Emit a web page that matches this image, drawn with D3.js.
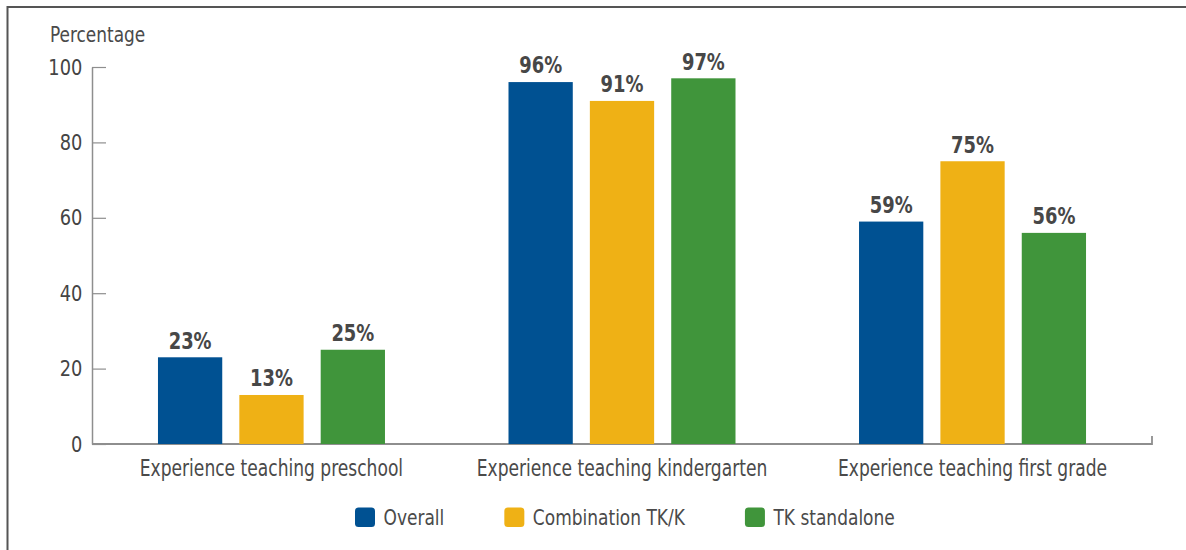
<!DOCTYPE html>
<html>
<head>
<meta charset="utf-8">
<script src="https://cdn.jsdelivr.net/npm/d3@7"></script>
<style>
  html, body { margin: 0; padding: 0; background: #fff; }
  svg { display: block; font-family: "DejaVu Sans Condensed", "Liberation Sans", sans-serif; }
</style>
</head>
<body>
<svg id="chart" width="1186" height="550"></svg>
<script>
const categories = ["Experience teaching preschool", "Experience teaching kindergarten", "Experience teaching first grade"];
const seriesNames = ["Overall", "Combination TK/K", "TK standalone"];
const overall = [23, 96, 59];
const combination = [13, 91, 75];
const standalone = [25, 97, 56];
const yTicks = [0, 20, 40, 60, 80, 100];
const colors = ["#005192", "#EFB115", "#40953B"];

(function () {
const FONT = "'DejaVu Sans Condensed', 'Liberation Sans', sans-serif";
const TEXT = "#4a4a4a";
const seriesValues = [overall, combination, standalone];
const data = categories.map((c, i) => ({
  category: c,
  values: seriesNames.map((s, j) => ({ series: s, value: seriesValues[j][i], color: colors[j] }))
}));

const svg = d3.select("#chart");
const mLeft = 92, mRight = 1152, mTop = 67, mBottom = 444;

// helper: horizontally compressed text (condensed look)
function label(parent, x, y, str, opts) {
  const g = parent.append("g").attr("transform", `translate(${x},${y}) scale(${opts.sx},1)`);
  return g.append("text")
    .attr("x", 0).attr("y", 0)
    .attr("text-anchor", opts.anchor || "start")
    .attr("fill", opts.fill || TEXT)
    .style("font-family", FONT)
    .style("font-size", opts.size + "px")
    .style("font-weight", opts.weight || "normal")
    .text(str);
}

// frame
svg.append("path")
  .attr("d", `M7.5,550 L7.5,7 L1186,7`)
  .attr("fill", "none").attr("stroke", "#555").attr("stroke-width", 2);

const y = d3.scaleLinear().domain([0, 100]).range([mBottom, mTop]);
const x0 = d3.scaleBand().domain(categories).range([mLeft, mRight]).paddingInner(0).paddingOuter(0.012);
const groupW = 227;
const x1 = d3.scaleBand().domain(seriesNames).range([-groupW / 2, groupW / 2]).paddingInner(0.21).paddingOuter(0);

// y axis
const tickSX = 0.9;
const yAxis = d3.axisLeft(y).tickValues(yTicks).tickSize(-14).tickSizeOuter(0).tickPadding(9.7);
const gy = svg.append("g").attr("transform", `translate(${mLeft},0)`).call(yAxis);
gy.select(".domain").attr("stroke", "#8e8e8e").attr("stroke-width", 1.5);
gy.selectAll(".tick line").attr("stroke", "#8e8e8e").attr("stroke-width", 1.2);
gy.selectAll(".tick text").attr("fill", "#444").style("font-size", "22px")
  .style("font-family", FONT)
  .attr("x", -9.7 / tickSX)
  .attr("transform", `scale(${tickSX},1)`);

// x axis line with end tick
svg.append("path")
  .attr("d", `M${mLeft},${mBottom} L${mRight},${mBottom} L${mRight},${mBottom - 8}`)
  .attr("fill", "none").attr("stroke", "#8e8e8e").attr("stroke-width", 1.8);

// bars
const groups = svg.append("g").selectAll("g").data(data).join("g")
  .attr("transform", d => `translate(${x0(d.category) + x0.bandwidth() / 2},0)`);

groups.selectAll("rect").data(d => d.values).join("rect")
  .attr("x", d => x1(d.series))
  .attr("width", x1.bandwidth())
  .attr("y", d => y(d.value))
  .attr("height", d => mBottom - y(d.value))
  .attr("fill", d => d.color);

groups.each(function (d) {
  const g = d3.select(this);
  d.values.forEach(v => {
    label(g, x1(v.series) + x1.bandwidth() / 2, y(v.value) - 8.6, v.value + "%",
      { sx: 0.87, size: 22.9, weight: "bold", anchor: "middle", fill: "#474747" });
  });
});

// category labels
categories.forEach(c => {
  label(svg, x0(c) + x0.bandwidth() / 2, 476, c, { sx: 0.845, size: 22.5, anchor: "middle" });
});

// y title
label(svg, 50, 42, "Percentage", { sx: 0.92, size: 20.5 });

// legend
let lx = 355;
seriesNames.forEach((s, i) => {
  svg.append("rect").attr("x", lx).attr("y", 507.5).attr("width", 20).attr("height", 19.5)
    .attr("rx", 3.5).attr("fill", colors[i]);
  const sx = 0.88;
  const t = label(svg, lx + 28.5, 525, s, { sx: sx, size: 21.5 });
  lx += 28.5 + t.node().getComputedTextLength() * sx + 60;
});
})();
</script>
</body>
</html>
